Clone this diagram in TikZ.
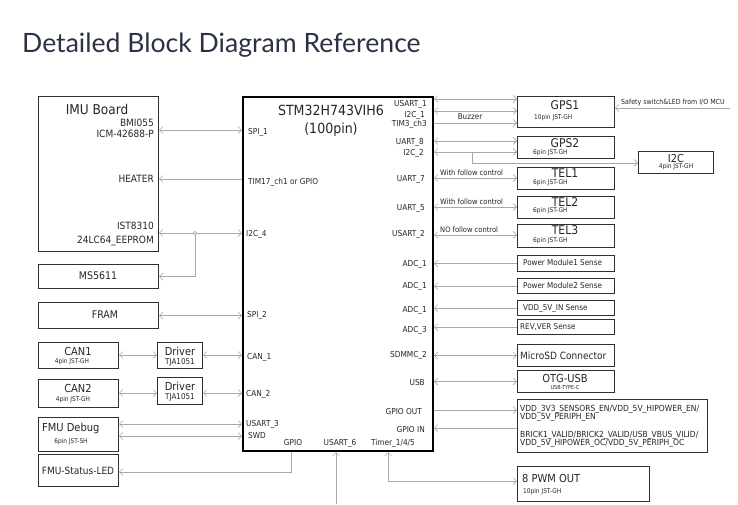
\documentclass[tikz,border=0pt]{standalone}
\usepackage{fontspec}
\setmainfont{DejaVu Sans Condensed}
\newfontfamily\titlefont{Lato}
\usetikzlibrary{arrows.meta}
\definecolor{ln}{HTML}{A8A8A8}
\definecolor{bd}{HTML}{303030}
\definecolor{ttl}{HTML}{2B3245}
\newcommand\fs[1]{\fontsize{#1}{#1}\selectfont}
\begin{document}
\begin{tikzpicture}[x=1pt,y=-1pt,
 box/.style={draw=bd, line width=1.1pt, inner sep=0pt, anchor=north west},
 conn/.style={draw=ln, line width=0.7pt},
 bar/.tip={Straight Barb[length=3.5pt,width=7pt,line width=0.6pt]},
 both/.style={conn,{bar}-{bar}},
 tr/.style={conn,-{bar}},
 tl/.style={conn,{bar}-},
 t/.style={inner sep=0pt, text=black!85},
 pin/.style={t, font=\fs{8.2}},
 tiny/.style={t, font=\fs{6.5}},
 lbl/.style={t, font=\fs{11}},
 sm/.style={t, font=\fs{8}},
]
\useasboundingbox (0,0) rectangle (738,504);
\fill[white] (0,0) rectangle (738,504);
\node[anchor=base west, inner sep=0pt, text=ttl, font=\titlefont\fs{26.6}] (title) at (22,52) {Detailed Block Diagram Reference};

% ---- MCU
\node[box, line width=2pt, draw=black, minimum width=190pt, minimum height=354pt] (mcu) at (242,96) {};
\node[t, font=\fs{14}] (mcut1) at (331,110) {STM32H743VIH6};
\node[t, font=\fs{14}] (mcut2) at (331,130) {(100pin)};
% left pins
\node[pin, anchor=west] (p1) at (248,132) {SPI\_1};
\node[pin, anchor=west] (p2) at (248,182) {TIM17\_ch1 or GPIO};
\node[pin, anchor=west] (p3) at (246,234) {I2C\_4};
\node[pin, anchor=west] (p4) at (247,315) {SPI\_2};
\node[pin, anchor=west] (p5) at (247,357) {CAN\_1};
\node[pin, anchor=west] (p6) at (246,394) {CAN\_2};
\node[pin, anchor=west] (p7) at (246,424) {USART\_3};
\node[pin, anchor=west] (p8) at (248,436) {SWD};
% bottom pins
\node[pin] (b1) at (293,443) {GPIO};
\node[pin] (b2) at (340,443) {USART\_6};
\node[pin] (b3) at (393,443) {Timer\_1/4/5};
% right pins
\node[pin, anchor=east] (r1) at (427,104) {USART\_1};
\node[pin, anchor=east] (r2) at (425,115) {I2C\_1};
\node[pin, anchor=east] (r3) at (427,124) {TIM3\_ch3};
\node[pin, anchor=east] (r4) at (424,142) {UART\_8};
\node[pin, anchor=east] (r5) at (424,153) {I2C\_2};
\node[pin, anchor=east] (r6) at (425,179) {UART\_7};
\node[pin, anchor=east] (r7) at (425,208) {UART\_5};
\node[pin, anchor=east] (r8) at (425,234) {USART\_2};
\node[pin, anchor=east] (r9) at (427,264) {ADC\_1};
\node[pin, anchor=east] (r10) at (427,286) {ADC\_1};
\node[pin, anchor=east] (r11) at (427,310) {ADC\_1};
\node[pin, anchor=east] (r12) at (427,330) {ADC\_3};
\node[pin, anchor=east] (r13) at (427,355) {SDMMC\_2};
\node[pin, anchor=east] (r14) at (425,383) {USB};
\node[pin, anchor=east] (r15) at (422,412) {GPIO OUT};
\node[pin, anchor=east] (r16) at (425,430) {GPIO IN};

% ---- left boxes
\node[box, minimum width=120pt, minimum height=155pt] (imu) at (38,96) {};
\node[t, font=\fs{13.5}] (imut) at (97,109) {IMU Board};
\node[t, font=\fs{10}, anchor=east] (imu1) at (154,123) {BMI055};
\node[t, font=\fs{10}, anchor=east] (imu2) at (154,134) {ICM-42688-P};
\node[t, font=\fs{10}, anchor=east] (imu3) at (154,179) {HEATER};
\node[t, font=\fs{10}, anchor=east] (imu4) at (154,226) {IST8310};
\node[t, font=\fs{10}, anchor=east] (imu5) at (154,241) {24LC64\_EEPROM};

\node[box, minimum width=120pt, minimum height=24pt] (ms) at (38,264) {};
\node[t, font=\fs{10.5}] (mst) at (98,276) {MS5611};
\node[box, minimum width=120pt, minimum height=26pt] (fram) at (38,302) {};
\node[t, font=\fs{10.5}] (framt) at (105,315) {FRAM};

\node[box, minimum width=80pt, minimum height=26pt] (can1) at (38,342) {};
\node[lbl] (can1t) at (78,351) {CAN1};
\node[tiny] (can1s) at (72,362) {4pin JST-GH};
\node[box, minimum width=45pt, minimum height=26pt] (drv1) at (157,342) {};
\node[lbl] (drv1t) at (180,351) {Driver};
\node[sm] (drv1s) at (180,362) {TJA1051};

\node[box, minimum width=80pt, minimum height=28pt] (can2) at (38,379) {};
\node[lbl] (can2t) at (78,388) {CAN2};
\node[tiny] (can2s) at (73,400) {4pin JST-GH};
\node[box, minimum width=45pt, minimum height=27pt] (drv2) at (157,377) {};
\node[lbl] (drv2t) at (180,386) {Driver};
\node[sm] (drv2s) at (180,397) {TJA1051};

\node[box, minimum width=80pt, minimum height=34pt] (dbg) at (38,417) {};
\node[lbl, anchor=west] (dbgt) at (42,428) {FMU Debug};
\node[tiny] (dbgs) at (71,442) {6pin JST-SH};

\node[box, minimum width=80pt, minimum height=32pt] (led) at (38,454) {};
\node[t, font=\fs{10}] (ledt) at (78,471) {FMU-Status-LED};

% ---- right boxes
\node[box, minimum width=97pt, minimum height=31pt] (gps1) at (517,96) {};
\node[t, font=\fs{12}] (gps1t) at (565,105) {GPS1};
\node[tiny, anchor=west] (gps1s) at (534,118) {10pin JST-GH};
\node[box, minimum width=97pt, minimum height=22pt] (gps2) at (517,136) {};
\node[t, font=\fs{12}] (gps2t) at (565,143) {GPS2};
\node[tiny, anchor=west] (gps2s) at (533,153) {6pin JST-GH};
\node[box, minimum width=75pt, minimum height=22pt] (i2c) at (638,151) {};
\node[lbl] (i2ct) at (676,158) {I2C};
\node[tiny] (i2cs) at (676,167) {4pin JST-GH};
\node[box, minimum width=97pt, minimum height=22pt] (tel1) at (517,167) {};
\node[t, font=\fs{12}] (tel1t) at (565,173) {TEL1};
\node[tiny, anchor=west] (tel1s) at (533,183) {6pin JST-GH};
\node[box, minimum width=97pt, minimum height=22pt] (tel2) at (517,196) {};
\node[t, font=\fs{12}] (tel2t) at (565,202) {TEL2};
\node[tiny, anchor=west] (tel2s) at (533,211) {6pin JST-GH};
\node[box, minimum width=97pt, minimum height=23pt] (tel3) at (517,224) {};
\node[t, font=\fs{12}] (tel3t) at (565,230) {TEL3};
\node[tiny, anchor=west] (tel3s) at (533,241) {6pin JST-GH};

\node[box, minimum width=97pt, minimum height=16pt] (pm1) at (517,255) {};
\node[sm, anchor=west] (pm1t) at (523,263) {Power Module1 Sense};
\node[box, minimum width=97pt, minimum height=15pt] (pm2) at (517,278) {};
\node[sm, anchor=west] (pm2t) at (523,286) {Power Module2 Sense};
\node[box, minimum width=97pt, minimum height=15pt] (vdd) at (517,300) {};
\node[sm, anchor=west] (vddt) at (523,308) {VDD\_5V\_IN Sense};
\node[box, minimum width=97pt, minimum height=15pt] (rev) at (517,319) {};
\node[sm, anchor=west] (revt) at (520,327) {REV,VER Sense};
\node[box, minimum width=97pt, minimum height=22pt] (sd) at (517,344) {};
\node[t, font=\fs{10}, anchor=west] (sdt) at (520,356) {MicroSD Connector};
\node[box, minimum width=97pt, minimum height=22pt] (usb) at (517,370) {};
\node[lbl] (usbt) at (565,378) {OTG-USB};
\node[t, font=\fs{5.5}] (usbs) at (565,387) {USB-TYPE-C};
\node[box, minimum width=190pt, minimum height=53pt] (gpio) at (517,399) {};
\node[t, font=\fs{8.4}, anchor=north west, align=left] (gpiot1) at (520,405) {VDD\_3V3\_SENSORS\_EN/VDD\_5V\_HIPOWER\_EN/\\VDD\_5V\_PERIPH\_EN};
\node[t, font=\fs{8.4}, anchor=north west, align=left] (gpiot2) at (520,431) {BRICK1\_VALID/BRICK2\_VALID/USB\_VBUS\_VILID/\\VDD\_5V\_HIPOWER\_OC/VDD\_5V\_PERIPH\_OC};
\node[box, minimum width=132pt, minimum height=35pt] (pwm) at (517,466) {};
\node[lbl, anchor=west] (pwmt) at (522,478) {8 PWM OUT};
\node[tiny, anchor=west] (pwms) at (523,492) {10pin JST-GH};

% ---- connectors left
\draw[both] (imu.east |- 0,130) -- (mcu.west |- 0,130);
\draw[tl] (imu.east |- 0,179) -- (mcu.west |- 0,179);
\coordinate (j) at (195,233);
\draw[both] (imu.east |- j) -- (mcu.west |- j);
\draw[tr] (j) |- (ms.east);
\draw[draw=ln, line width=0.6pt, fill=white] (j) circle (1.6pt);
\draw[both] (fram.east) -- (mcu.west |- fram.east);
\draw[both] (can1.east |- 0,355) -- (drv1.west |- 0,355);
\draw[both] (drv1.east |- 0,355) -- (mcu.west |- 0,355);
\draw[both] (can2.east |- 0,393) -- (drv2.west |- 0,393);
\draw[both] (drv2.east |- 0,393) -- (mcu.west |- 0,393);
\draw[both] (dbg.east |- 0,424) -- (mcu.west |- 0,424);
\draw[both] (dbg.east |- 0,436) -- (mcu.west |- 0,436);
\draw[tr] (mcu.south -| 291,0) |- (led.east |- 0,472);
\draw[tl] (mcu.south -| 336,0) -- (336,504);
\draw[both] (mcu.south -| 388,0) |- (pwm.west |- 0,481);

% ---- connectors right
\draw[both] (mcu.east |- 0,99) -- (gps1.west |- 0,99);
\draw[both] (mcu.east |- 0,111) -- (gps1.west |- 0,111);
\draw[tr] (mcu.east |- 0,123) -- (gps1.west |- 0,123);
\node[sm] (buz) at (470,117) {Buzzer};
\draw[tl] (gps1.east |- 0,108) -- (730,108);
\node[t, font=\fs{7}, anchor=west] (safe) at (621,103) {Safety switch\&LED from I/O MCU};
\draw[both] (mcu.east |- 0,141) -- (gps2.west |- 0,141);
\draw[both] (mcu.east |- 0,152) -- (gps2.west |- 0,152);
\draw[tr] (472,152) |- (i2c.west |- 0,163);
\draw[both] (mcu.east |- 0,178) -- (tel1.west |- 0,178);
\node[t, font=\fs{7.5}, anchor=west] (f1) at (440,173) {With follow control};
\draw[both] (mcu.east |- 0,207) -- (tel2.west |- 0,207);
\node[t, font=\fs{7.5}, anchor=west] (f2) at (440,202) {With follow control};
\draw[both] (mcu.east |- 0,235) -- (tel3.west |- 0,235);
\node[t, font=\fs{7.5}, anchor=west] (f3) at (440,230) {NO follow control};
\draw[tl] (mcu.east |- pm1.west) -- (pm1.west);
\draw[tl] (mcu.east |- pm2.west) -- (pm2.west);
\draw[tl] (mcu.east |- vdd.west) -- (vdd.west);
\draw[tl] (mcu.east |- rev.west) -- (rev.west);
\draw[both] (mcu.east |- sd.west) -- (sd.west);
\draw[both] (mcu.east |- usb.west) -- (usb.west);
\draw[tr] (mcu.east |- 0,410) -- (gpio.west |- 0,410);
\draw[tl] (mcu.east |- 0,428) -- (gpio.west |- 0,428);
\end{tikzpicture}
\end{document}
